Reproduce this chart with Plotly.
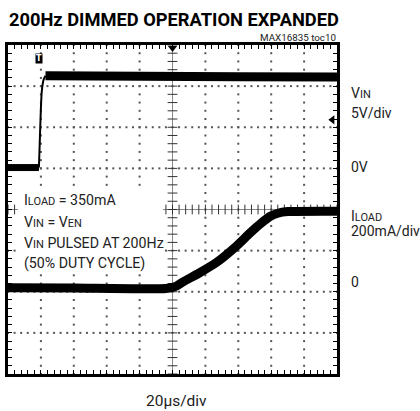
import numpy as np
import plotly.graph_objects as go

# ---- data (divisions: x 0..10, y 0..8) ----
vin_t = [0.0, 0.94, 0.98, 1.03, 1.08, 1.14, 3.0, 5.0, 7.0, 10.0]
vin_v = [5.02, 5.02, 6.0, 6.9, 7.15, 7.25, 7.26, 7.25, 7.23, 7.22]

iload_t = [0.0, 2.0, 4.8, 5.1, 5.32, 5.8, 6.35, 6.9, 7.36, 7.7, 7.96, 8.2, 8.5, 10.0]
iload_v = [2.1, 2.09, 2.08, 2.13, 2.24, 2.45, 2.72, 3.08, 3.43, 3.67, 3.83, 3.91, 3.95, 3.96]

title_text = "200Hz DIMMED OPERATION EXPANDED"
ref_text = "MAX16835 toc10"
xscale_text = "20μs/div"

FONT = "Roboto, Liberation Sans, sans-serif"

fig = go.Figure()

# grid dots
gx, gy = [], []
sub_x = np.round(np.arange(0, 10.001, 0.2), 3)
sub_y = np.round(np.arange(0, 8.001, 0.2), 3)
for yv in [1, 2, 3, 5, 6, 7]:
    gx += list(sub_x); gy += [yv] * len(sub_x)
for xv in [1, 2, 3, 4, 6, 7, 8, 9]:
    gx += [xv] * len(sub_y); gy += list(sub_y)
fig.add_trace(go.Scatter(x=gx, y=gy, mode="markers",
                         marker=dict(symbol="square", size=2, color="#555"),
                         hoverinfo="skip", showlegend=False))

# center axes
fig.add_shape(type="line", x0=0, x1=10, y0=4, y1=4, line=dict(color="#888", width=1), layer="below")
fig.add_shape(type="line", x0=5, x1=5, y0=0, y1=8, line=dict(color="#888", width=1), layer="below")
fig.add_trace(go.Scatter(x=list(sub_x), y=[4] * len(sub_x), mode="markers",
                         marker=dict(symbol="line-ns", size=7, line=dict(color="#333", width=1)),
                         hoverinfo="skip", showlegend=False))
fig.add_trace(go.Scatter(x=[5] * len(sub_y), y=list(sub_y), mode="markers",
                         marker=dict(symbol="line-ew", size=7, line=dict(color="#333", width=1)),
                         hoverinfo="skip", showlegend=False))

# VIN trace: low, edge, high
fig.add_trace(go.Scatter(x=vin_t[:2], y=vin_v[:2], mode="lines",
                         line=dict(color="black", width=7), showlegend=False))
fig.add_trace(go.Scatter(x=vin_t[1:6], y=vin_v[1:6], mode="lines",
                         line=dict(color="black", width=2, shape="spline"), showlegend=False))
fig.add_trace(go.Scatter(x=vin_t[5:], y=vin_v[5:], mode="lines",
                         line=dict(color="black", width=9), showlegend=False))

# ILOAD trace
fig.add_trace(go.Scatter(x=iload_t, y=iload_v, mode="lines",
                         line=dict(color="black", width=9, shape="spline", smoothing=0.6),
                         showlegend=False))

# trigger markers
fig.add_trace(go.Scatter(x=[5], y=[7.93], mode="markers", cliponaxis=False,
                         marker=dict(symbol="triangle-down", size=8, color="black"),
                         showlegend=False))
fig.add_trace(go.Scatter(x=[9.86], y=[6.18], mode="markers", cliponaxis=False,
                         marker=dict(symbol="triangle-left", size=8, color="black"),
                         showlegend=False))

W, H = 329.0, 329.0
def px(x): return (x - 8) / W
def py(y): return (374 - y) / H

# white box behind the condition text
fig.add_shape(type="rect", xref="paper", yref="paper",
              x0=px(18), x1=px(163), y0=py(274), y1=py(188),
              fillcolor="white", line=dict(width=0), layer="above")

ann = []
ann.append(dict(x=0.95, y=7.68, xref="x", yref="y", text="<b>T</b>", showarrow=False,
                font=dict(size=8, color="white", family="DejaVu Sans"), bgcolor="black", borderpad=0))
ann.append(dict(x=px(7), y=py(20), xref="paper", yref="paper", text="<b>" + title_text + "</b>",
                showarrow=False, xanchor="left", yanchor="middle",
                font=dict(size=18.3, color="black", family=FONT)))
ann.append(dict(x=px(338), y=py(37), xref="paper", yref="paper", text=ref_text,
                showarrow=False, xanchor="right", yanchor="middle",
                font=dict(size=9.8, color="#222", family=FONT)))
ann.append(dict(x=px(176), y=py(401), xref="paper", yref="paper", text=xscale_text,
                showarrow=False, xanchor="center", yanchor="middle",
                font=dict(size=15.5, color="#222", family=FONT)))

def lbl(main, sub, size):
    return main + "<span style='font-size:%gpx'>%s</span>" % (size, sub)

right_labels = [(lbl("V", "IN", 11), 93), ("5V/div", 113), ("0V", 167),
                (lbl("I", "LOAD", 11), 216), ("200mA/div", 231), ("0", 282)]
for t, yy in right_labels:
    ann.append(dict(x=px(349), y=py(yy), xref="paper", yref="paper", text=t,
                    showarrow=False, xanchor="left", yanchor="middle",
                    font=dict(size=14, color="#222", family=FONT)))

inner_lines = [(lbl("I", "LOAD", 11) + " = 350mA", 200),
               (lbl("V", "IN", 11) + " = " + lbl("V", "EN", 11), 222),
               (lbl("V", "IN", 11) + " PULSED AT 200Hz", 243),
               ("(50% DUTY CYCLE)", 263)]
for t, yy in inner_lines:
    ann.append(dict(x=px(22), y=py(yy), xref="paper", yref="paper", text=t,
                    showarrow=False, xanchor="left", yanchor="middle",
                    font=dict(size=14.2, color="#222", family=FONT)))

axis_common = dict(showgrid=False, zeroline=False, ticks="inside", ticklen=4,
                   tickcolor="black", tickwidth=1, showticklabels=False,
                   showline=True, linecolor="black", linewidth=3, mirror="ticks",
                   fixedrange=True)

fig.update_layout(
    width=420, height=411,
    margin=dict(l=8, r=83, t=45, b=37),
    paper_bgcolor="white", plot_bgcolor="white",
    xaxis=dict(range=[0, 10], tickvals=list(sub_x), **axis_common),
    yaxis=dict(range=[0, 8], tickvals=list(sub_y), **axis_common),
    annotations=ann,
    showlegend=False,
)

# remove the default 8px page margin so the figure fills the window exactly
fig.write_html("out.html",
               config={"displayModeBar": False},
               post_script="document.body.style.margin='0';document.body.style.overflow='hidden';")
